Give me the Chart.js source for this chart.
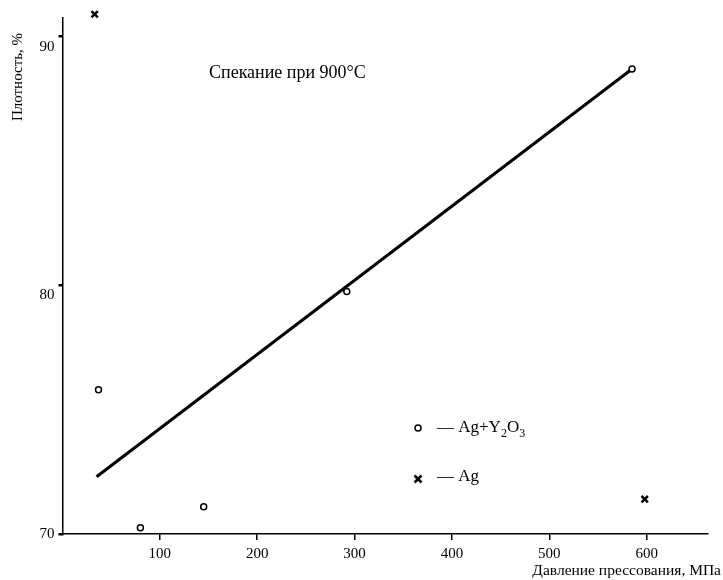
<!DOCTYPE html>
<html>
<head>
<meta charset="utf-8">
<script src="https://cdn.jsdelivr.net/npm/chart.js@4/dist/chart.umd.min.js"></script>
<style>
  body { margin: 0; background: #fff; }
  canvas { display: block; }
</style>
</head>
<body>
<canvas id="densityChart" width="723" height="580"></canvas>
<script>
// Datos
const xTicks = [100, 200, 300, 400, 500, 600];
const yTicks = [70, 80, 90];

// Ag+Y2O3 (círculos)
const agYX = [37, 80, 145, 292, 585];
const agYY = [75.8, 70.25, 71.1, 79.75, 88.7];

// Ag (cruces)
const agX = [33, 598];
const agY = [90.9, 71.4];

// Recta de tendencia
const fitX = [35, 585];
const fitY = [72.3, 88.7];

const serif = 'Liberation Serif, Times New Roman, serif';

function toPoints(xs, ys) {
    return xs.map((x, i) => ({ x: x, y: ys[i] }));
}

// Plugin para textos: etiquetas del eje Y, títulos de ejes, leyenda y nota
const annotations = {
    id: 'annotations',
    afterDraw(chart) {
        const ctx = chart.ctx;
        const yScale = chart.scales.y;
        const area = chart.chartArea;
        ctx.save();
        ctx.fillStyle = '#000';
        ctx.strokeStyle = '#000';

        // etiquetas del eje Y (90 y 80 quedan algo por debajo de su marca)
        ctx.font = '15px ' + serif;
        ctx.textAlign = 'right';
        ctx.textBaseline = 'middle';
        yTicks.forEach(v => {
            const off = v === 70 ? 0 : 10;
            ctx.fillText(String(v), area.left - 8, yScale.getPixelForValue(v) + off);
        });

        // título del eje X (sobresale a la derecha del eje)
        ctx.font = '15.5px ' + serif;
        ctx.fillText('Давление прессования, МПа', 721, 571);

        // título del eje Y
        ctx.font = '15px ' + serif;
        ctx.save();
        ctx.translate(18, 77);
        ctx.rotate(-Math.PI / 2);
        ctx.textAlign = 'center';
        ctx.fillText('Плотность, %', 0, 0);
        ctx.restore();

        // nota
        ctx.font = '18px ' + serif;
        ctx.textAlign = 'left';
        ctx.fillText('Спекание при 900°С', 209, 73);

        // leyenda
        ctx.lineWidth = 1.5;
        ctx.beginPath();
        ctx.arc(418, 428, 3, 0, Math.PI * 2);
        ctx.fillStyle = '#fff';
        ctx.fill();
        ctx.stroke();
        ctx.fillStyle = '#000';

        let x = 437;
        const parts = [['— Ag+Y', 0], ['2', 1], ['O', 0], ['3', 1]];
        parts.forEach(p => {
            ctx.font = (p[1] ? '12px ' : '17px ') + serif;
            ctx.fillText(p[0], x, p[1] ? 434 : 428);
            x += ctx.measureText(p[0]).width;
        });

        ctx.lineWidth = 2.5;
        ctx.beginPath();
        ctx.moveTo(414.5, 475.5); ctx.lineTo(421.5, 482.5);
        ctx.moveTo(421.5, 475.5); ctx.lineTo(414.5, 482.5);
        ctx.stroke();
        ctx.font = '17px ' + serif;
        ctx.fillText('— Ag', 437, 477);

        ctx.restore();
    }
};

function initializeChart() {
    const ctx = document.getElementById('densityChart').getContext('2d');
    new Chart(ctx, {
        type: 'scatter',
        data: {
            datasets: [{
                type: 'line',
                data: toPoints(fitX, fitY),
                borderColor: '#000',
                borderWidth: 3,
                pointRadius: 0,
                fill: false,
                order: 3
            }, {
                label: 'Ag+Y2O3',
                data: toPoints(agYX, agYY),
                pointStyle: 'circle',
                pointRadius: 3,
                pointBorderWidth: 1.5,
                borderColor: '#000',
                backgroundColor: '#fff',
                order: 1
            }, {
                label: 'Ag',
                data: toPoints(agX, agY),
                pointStyle: 'crossRot',
                pointRadius: 4.5,
                pointBorderWidth: 2.5,
                borderColor: '#000',
                backgroundColor: '#000',
                clip: false,
                order: 2
            }]
        },
        options: {
            responsive: false,
            animation: false,
            layout: { padding: { top: 18, right: 15, left: 0, bottom: 0 } },
            plugins: {
                legend: { display: false },
                tooltip: { enabled: false }
            },
            scales: {
                x: {
                    type: 'linear',
                    min: 0,
                    max: 663,
                    afterFit: s => { s.height = 46; },
                    afterBuildTicks: s => { s.ticks = xTicks.map(v => ({ value: v })); },
                    border: { color: '#000', width: 1.5 },
                    grid: { drawOnChartArea: false, color: '#000', lineWidth: 1.5, tickLength: 6 },
                    ticks: { color: '#000', font: { family: serif, size: 15 }, padding: 5, maxRotation: 0 }
                },
                y: {
                    type: 'linear',
                    min: 70,
                    max: 90.75,
                    afterFit: s => { s.width = 62.5; },
                    afterBuildTicks: s => { s.ticks = yTicks.map(v => ({ value: v })); },
                    border: { color: '#000', width: 1.5 },
                    grid: { drawOnChartArea: false, color: '#000', lineWidth: 2.5, tickLength: 4 },
                    ticks: { display: false }
                }
            }
        },
        plugins: [annotations]
    });
}

window.onload = initializeChart;
</script>
</body>
</html>
